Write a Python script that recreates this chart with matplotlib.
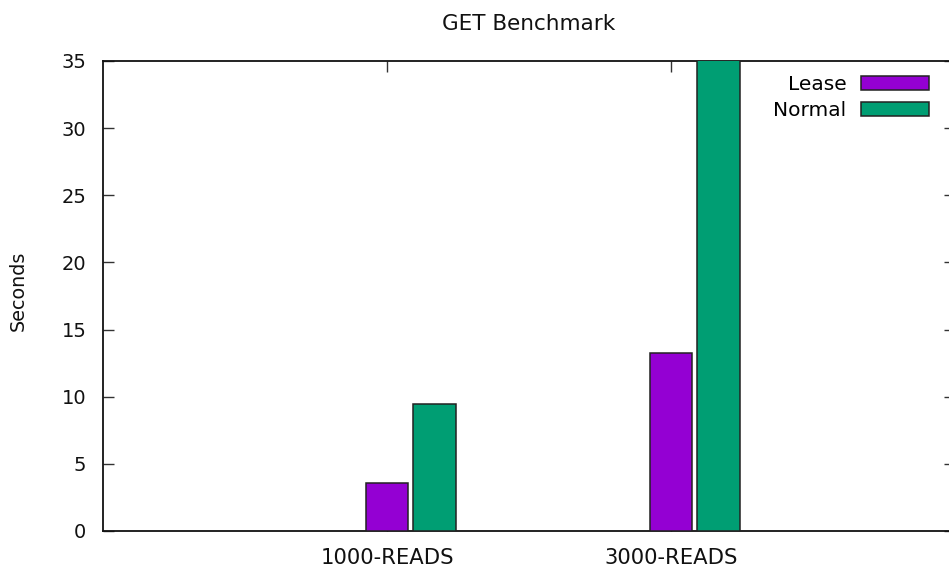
import matplotlib
matplotlib.use("Agg")
import matplotlib.pyplot as plt
import numpy as np

# GET benchmark data (seconds)
categories = ['1000-READS', '3000-READS']
lease = [3.55, 13.23]
normal = [9.43, 36.0]   # second bar runs off the top of the y range

plt.rcParams['font.family'] = 'DejaVu Sans'

fig = plt.figure(figsize=(9.49, 5.69), dpi=100)
ax = fig.add_axes([103/949, 1-531/569, 852/949, 470/569])

x = np.arange(1, len(categories)+1)
ax.bar(x, lease, width=0.15, color='#9400d3', edgecolor='#222222', linewidth=1.1,
       label='Lease', zorder=3)
ax.bar(x+0.168, normal, width=0.15, color='#009e73', edgecolor='#222222', linewidth=1.1,
       label='Normal', zorder=3)

ax.set_xlim(0, 3)
ax.set_ylim(0, 35)
ax.set_yticks(range(0, 36, 5))
ax.set_xticks(x)
ax.set_xticklabels(categories)

ax.tick_params(direction='in', length=7.7, width=1.0, color='#333333',
               top=True, right=True, labelcolor='#111111')
ax.tick_params(axis='x', labelsize=15.2, pad=12)
ax.tick_params(axis='y', labelsize=14, pad=12)
for s in ax.spines.values():
    s.set_linewidth(1.3)
    s.set_color('#111111')

ax.set_ylabel('Seconds', fontsize=13.8, color='#111111')
ax.yaxis.set_label_coords(-(103-28)/852, 0.51)
ax.set_title('GET Benchmark', fontsize=15.5, color='#111111', pad=22)

ax.legend(loc='upper right', bbox_to_anchor=(929/949, 1-75/569),
          bbox_transform=fig.transFigure, frameon=False, markerfirst=False,
          fontsize=14.5, handlelength=3.4, handleheight=0.7, labelspacing=0.35,
          borderaxespad=0, borderpad=0, handletextpad=0.7)

fig.savefig('out.png', dpi=100)
